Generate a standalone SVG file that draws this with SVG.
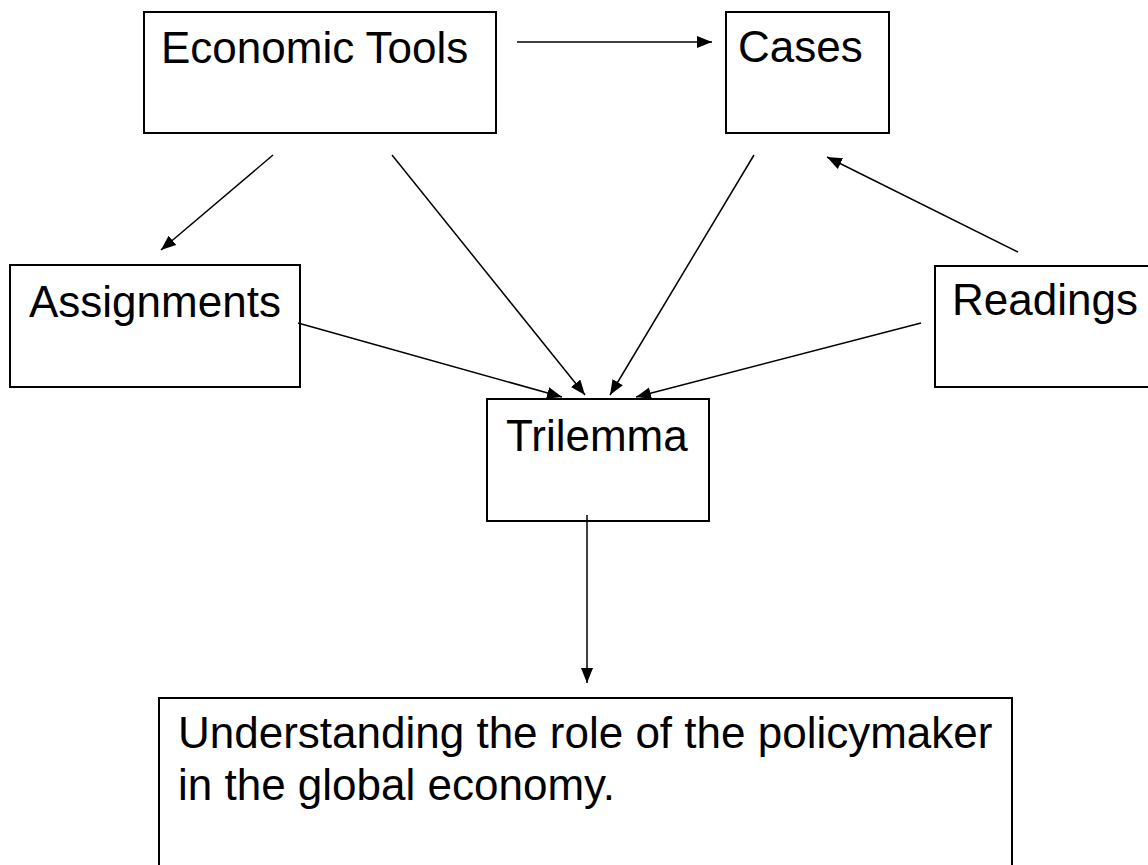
<svg xmlns="http://www.w3.org/2000/svg" width="1148" height="865" viewBox="0 0 1148 865">
  <defs>
    <marker id="arrow" markerUnits="userSpaceOnUse" markerWidth="16" markerHeight="14" refX="15" refY="6" orient="auto">
      <path d="M0,0 L15,6 L0,12 Z" fill="#000"/>
    </marker>
    <style>
      .box { fill: #fff; stroke: #000; stroke-width: 2; }
      .label { font-family: "Liberation Sans", Arial, sans-serif; font-size: 44px; fill: #000; }
      .link { stroke: #000; stroke-width: 1.5; fill: none; marker-end: url(#arrow); }
    </style>
  </defs>
  <rect width="1148" height="865" fill="#fff"/>

  <g id="economic-tools">
    <rect class="box" x="144" y="12" width="352" height="121"/>
    <text class="label" x="161" y="63">Economic Tools</text>
  </g>

  <g id="cases">
    <rect class="box" x="726" y="12" width="163" height="121"/>
    <text class="label" x="738" y="62">Cases</text>
  </g>

  <g id="assignments">
    <rect class="box" x="10" y="265" width="290" height="122"/>
    <text class="label" x="29" y="317">Assignments</text>
  </g>

  <g id="readings">
    <rect class="box" x="935" y="266" width="225" height="121"/>
    <text class="label" x="952" y="315">Readings</text>
  </g>

  <g id="trilemma">
    <rect class="box" x="487" y="399" width="222" height="122"/>
    <text class="label" x="506" y="451">Trilemma</text>
  </g>

  <g id="outcome">
    <rect class="box" x="159" y="698" width="853" height="190"/>
    <text class="label" x="178" y="748">Understanding the role of the policymaker</text>
    <text class="label" x="178" y="800">in the global economy.</text>
  </g>

  <g id="connectors">
    <line class="link" x1="517" y1="42" x2="712" y2="42"/>
    <line class="link" x1="273" y1="155" x2="161" y2="250"/>
    <line class="link" x1="392" y1="155" x2="585" y2="395"/>
    <line class="link" x1="754" y1="155" x2="610" y2="395"/>
    <line class="link" x1="1018" y1="252" x2="827" y2="157"/>
    <line class="link" x1="298" y1="323" x2="562" y2="397"/>
    <line class="link" x1="921" y1="323" x2="636" y2="397"/>
    <line class="link" x1="587" y1="515" x2="587" y2="683"/>
  </g>
</svg>
